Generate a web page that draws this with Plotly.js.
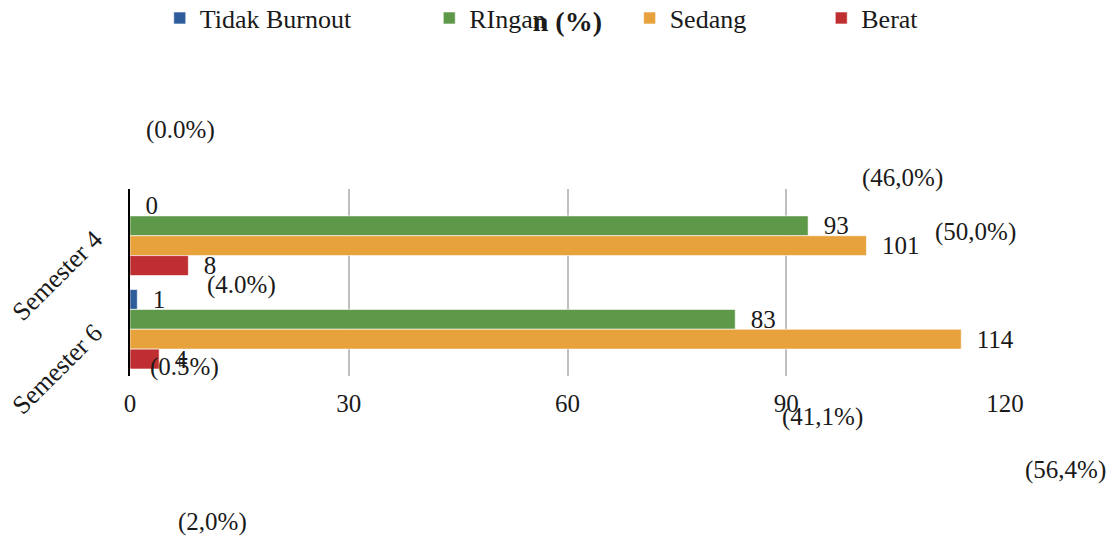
<!DOCTYPE html>
<html>
<head>
<meta charset="utf-8">
<script src="https://cdn.plot.ly/plotly-3.0.1.min.js"></script>
<style>html,body{margin:0;padding:0;background:#fff;}#chart{width:1118px;height:537px;}</style>
</head>
<body>
<div id="chart"></div>
<script>
const categories = ['Semester 4', 'Semester 6'];
const seriesNames = ['Tidak Burnout', 'RIngan', 'Sedang', 'Berat'];
const tidakBurnout = [0, 1];
const ringan = [93, 83];
const sedang = [101, 114];
const berat = [8, 4];
const seriesColors = ['#2E5C9A', '#5E9849', '#E8A23C', '#BF2E31'];
const xTicks = [0, 30, 60, 90, 120];

// stray percentage labels as they appear on the picture (paper coordinates)
const pctLabels = ['(0.0%)', '(46,0%)', '(50,0%)', '(4.0%)', '(0.5%)', '(41,1%)', '(56,4%)', '(2,0%)'];
const pctX = [0.058, 0.883, 0.966, 0.127, 0.062, 0.791, 1.069, 0.094];
const pctY = [1.316, 1.059, 0.770, 0.487, 0.048, -0.219, -0.503, -0.781];

const legendX = [0.034, 0.342, 0.571, 0.79];

const FONT = '"Liberation Serif", "Times New Roman", serif';
const allSeries = [tidakBurnout, ringan, sedang, berat];
const legendIds = ['legend', 'legend2', 'legend3', 'legend4'];
const pad = '\u00a0\u00a0';

const traces = allSeries.map((vals, i) => ({
  type: 'bar',
  orientation: 'h',
  name: seriesNames[i],
  y: categories,
  x: vals,
  text: vals.map(v => pad + v),
  textposition: 'outside',
  textfont: {family: FONT, size: 25, color: '#1a1a1a'},
  constraintext: 'none',
  cliponaxis: false,
  marker: {color: seriesColors[i], line: {color: 'rgba(255,255,255,0.6)', width: 1}},
  legend: legendIds[i],
  showlegend: true,
  hoverinfo: 'skip'
}));

const layout = {
  width: 1118,
  height: 537,
  margin: {l: 130, r: 113, t: 189, b: 161, autoexpand: false},
  showlegend: true,
  paper_bgcolor: '#fff',
  plot_bgcolor: '#fff',
  barmode: 'group',
  bargap: 0.15,
  bargroupgap: 0,
  font: {family: FONT, color: '#1a1a1a'},
  title: {
    text: '<b>n (%)</b>',
    font: {family: FONT, size: 28, color: '#1a1a1a'},
    x: 0.5075, xanchor: 'center', y: 0.96, yanchor: 'middle'
  },
  xaxis: {
    range: [0, 120],
    tickvals: xTicks,
    ticktext: xTicks.map(String),
    showgrid: true,
    gridcolor: '#BFBFBF',
    gridwidth: 2,
    zeroline: false,
    showline: false,
    ticks: '',
    tickfont: {family: FONT, size: 25, color: '#1a1a1a'},
    ticklabelstandoff: 10
  },
  yaxis: {
    type: 'category',
    autorange: 'reversed',
    showgrid: false,
    zeroline: false,
    showline: true,
    linecolor: '#000',
    linewidth: 2,
    ticks: '',
    tickangle: -45,
    tickfont: {family: FONT, size: 26, color: '#1a1a1a'},
    ticklabelstandoff: 28
  },
  annotations: pctLabels.map((t, i) => ({
    text: t,
    x: pctX[i],
    y: pctY[i],
    xref: 'paper',
    yref: 'paper',
    xanchor: 'center',
    yanchor: 'middle',
    showarrow: false,
    font: {family: FONT, size: 25, color: '#1a1a1a'}
  }))
};

legendIds.forEach((id, i) => {
  layout[id] = {
    orientation: 'h',
    x: legendX[i],
    xanchor: 'left',
    y: 1.914,
    yanchor: 'middle',
    font: {family: FONT, size: 26, color: '#1a1a1a'},
    bgcolor: 'rgba(0,0,0,0)',
    itemwidth: 30,
    visible: true
  };
});

Plotly.newPlot('chart', traces, layout, {displayModeBar: false, staticPlot: true});
</script>
</body>
</html>
